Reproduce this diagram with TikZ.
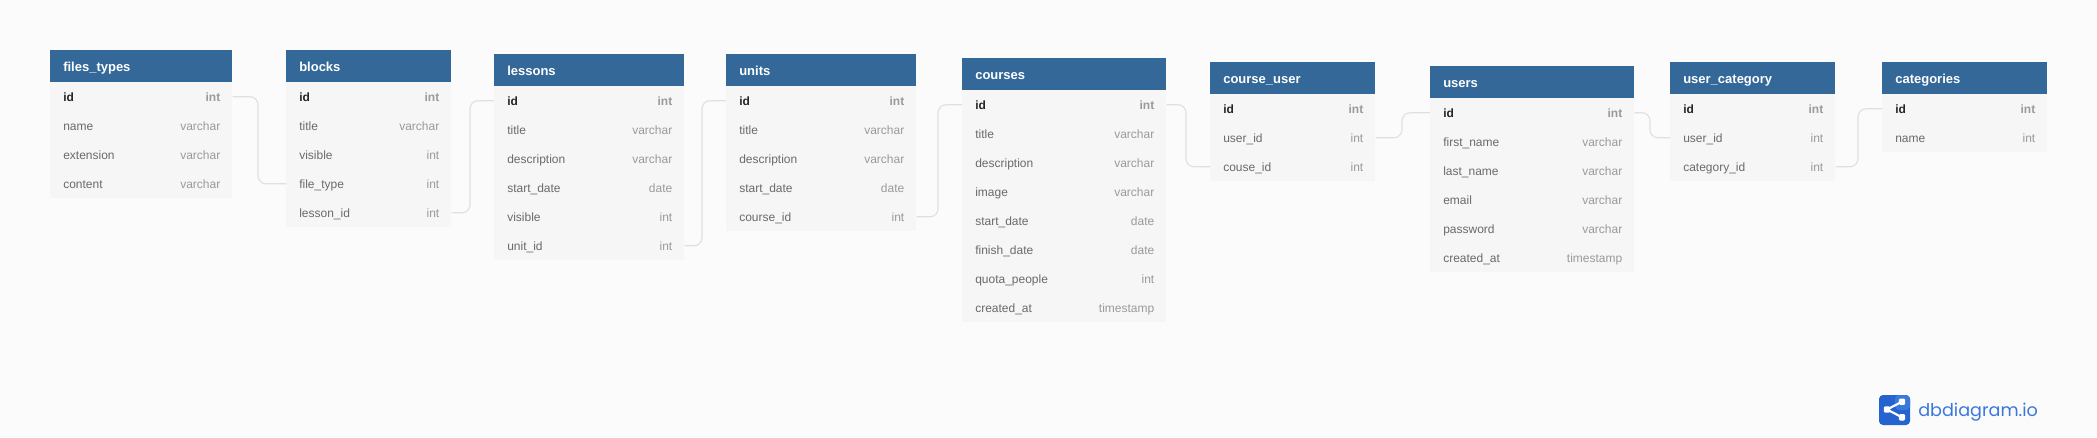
\documentclass[tikz,border=0pt]{standalone}
\usepackage{fontspec}
\setmainfont{Liberation Sans}
\newfontfamily\brandfont{Poppins}
\definecolor{pagebg}{HTML}{FBFBFB}
\definecolor{headblue}{HTML}{336899}
\definecolor{rowgrey}{HTML}{F6F6F6}
\definecolor{linegrey}{HTML}{E0E0E0}
\definecolor{fieldgrey}{HTML}{6A6A6A}
\definecolor{typegrey}{HTML}{9A9A9A}
\definecolor{logoblue}{HTML}{3A78DC}
\definecolor{logodark}{HTML}{2563CF}
\tikzset{
  cellbase/.style={anchor=north west, align=left, inner xsep=13*0.75pt, inner ysep=0pt, text height=8pt, text depth=0.8pt},
  headbox/.style={cellbase, fill=headblue, text=white, minimum height=32*0.75pt, font=\fontsize{9.75}{11}\selectfont\bfseries},
  rowbox/.style={cellbase, fill=rowgrey, text=fieldgrey, minimum height=29*0.75pt, font=\fontsize{9}{11}\selectfont},
  idbox/.style={rowbox, text=black!85, font=\fontsize{9}{11}\selectfont\bfseries},
  typelabel/.style={text=typegrey, anchor=east, inner xsep=12*0.75pt, inner ysep=0pt, text height=8pt, text depth=0.8pt, font=\fontsize{9}{11}\selectfont},
  idtype/.style={typelabel, font=\fontsize{9}{11}\selectfont\bfseries},
  relline/.style={draw=linegrey, line width=.85pt, rounded corners=6pt}
}
% #1 key, #2 x, #3 y, #4 width, #5 title, #6 remaining rows
\newcommand{\dbtable}[6]{
  \node[headbox, text width=(#4-26)*0.75pt, minimum width=#4*0.75pt] (#1) at (#2,#3) {#5};
  \node[idbox, text width=(#4-26)*0.75pt, minimum width=#4*0.75pt] (#1-1) at (#2,#3+32) {id};
  \node[idtype] (#1-1-type) at (#1-1.east) {int};
  \foreach \field/\ftype [count=\i from 2] in {#6} {
    \node[rowbox, text width=(#4-26)*0.75pt, minimum width=#4*0.75pt] (#1-\i) at (#2,#3+32+29*\i-29) {\field};
    \node[typelabel] (#1-\i-type) at (#1-\i.east) {\ftype};
  }
}
\begin{document}
\begin{tikzpicture}[x=0.75pt, y=-0.75pt]
\fill[pagebg] (0,0) rectangle (2097,437);
\useasboundingbox (0,0) rectangle (2097,437);

\dbtable{filestypes}{50}{50}{182}{files\_types}{name/varchar, extension/varchar, content/varchar}
\dbtable{blocks}{286}{50}{165}{blocks}{title/varchar, visible/int, file\_type/int, lesson\_id/int}
\dbtable{lessons}{494}{54}{190}{lessons}{title/varchar, description/varchar, start\_date/date, visible/int, unit\_id/int}
\dbtable{units}{726}{54}{190}{units}{title/varchar, description/varchar, start\_date/date, course\_id/int}
\dbtable{courses}{962}{58}{204}{courses}{title/varchar, description/varchar, image/varchar, start\_date/date, finish\_date/date, quota\_people/int, created\_at/timestamp}
\dbtable{courseuser}{1210}{62}{165}{course\_user}{user\_id/int, couse\_id/int}
\dbtable{users}{1430}{66}{204}{users}{first\_name/varchar, last\_name/varchar, email/varchar, password/varchar, created\_at/timestamp}
\dbtable{usercategory}{1670}{62}{165}{user\_category}{user\_id/int, category\_id/int}
\dbtable{categories}{1882}{62}{165}{categories}{name/int}

% relations
\foreach \from/\to/\bendx in {filestypes-1/blocks-4/258, blocks-5/lessons-1/470, lessons-6/units-1/702, units-5/courses-1/938, courses-1/courseuser-3/1186, courseuser-2/users-1/1402, users-1/usercategory-2/1650, usercategory-3/categories-1/1858} {
  \coordinate (bend) at (\bendx,0);
  \draw[relline] (\from.east) -- (\from.east -| bend) -- (\to.west -| bend) -- (\to.west);
}

% logo
\node[fill=logodark, rounded corners=3pt, minimum width=31*0.75pt, minimum height=30*0.75pt, inner sep=0pt] (logo) at (1894.5,410) {};
\fill[logoblue, rounded corners=3pt] (1895,395) rectangle (1910,410);
\coordinate (hubA) at (1887,409.5);
\coordinate (hubB) at (1902,401.7);
\coordinate (hubC) at (1902,417.3);
\draw[white, line width=1.6pt] (hubB) -- (hubA) -- (hubC);
\foreach \hub in {hubA, hubB, hubC} \fill[white, rounded corners=1pt] (\hub) +(-3.2,-3.2) rectangle +(3.2,3.2);
\node[text=logoblue, anchor=base west, inner sep=0pt, font=\brandfont\fontsize{13.2}{16}\selectfont] (brand) at (1918,416) {dbdiagram.io};
\end{tikzpicture}
\end{document}
